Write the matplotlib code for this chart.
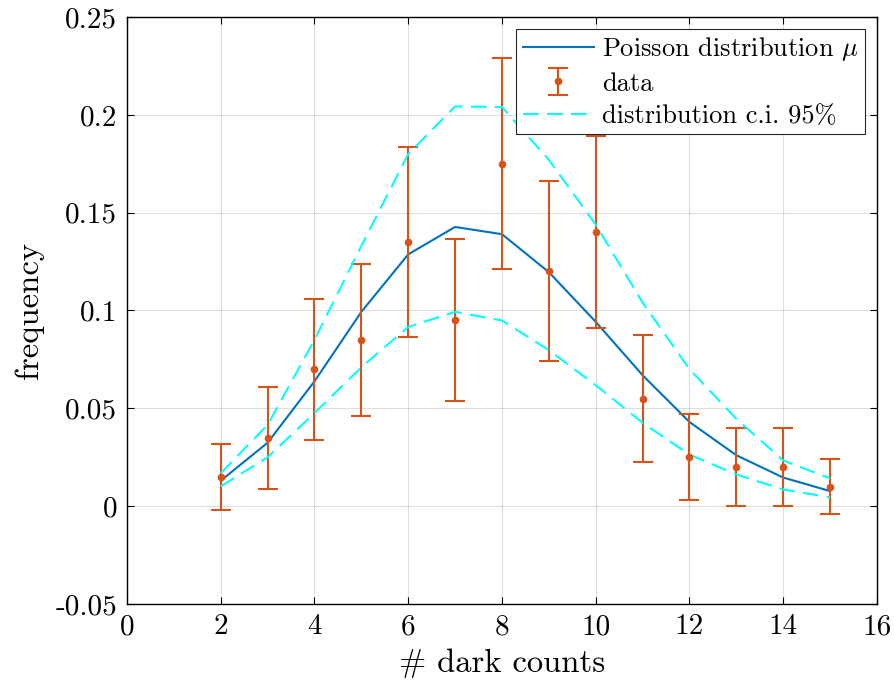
import matplotlib
matplotlib.use('Agg')
import matplotlib.pyplot as plt

# Computer Modern look (MATLAB LaTeX interpreter)
plt.rcParams['font.family'] = ['cmr10', 'DejaVu Serif']
plt.rcParams['mathtext.fontset'] = 'cm'
plt.rcParams['axes.unicode_minus'] = False

FONTSIZE = 21

# data
counts = [2, 3, 4, 5, 6, 7, 8, 9, 10, 11, 12, 13, 14, 15]
freq = [0.015, 0.035, 0.070, 0.085, 0.135, 0.095, 0.175, 0.120, 0.140,
        0.055, 0.025, 0.020, 0.020, 0.010]
freq_err = [0.017, 0.026, 0.036, 0.039, 0.0485, 0.0415, 0.054, 0.046,
            0.049, 0.0325, 0.022, 0.020, 0.020, 0.014]
poisson_mu = [0.013, 0.0324, 0.0638, 0.0993, 0.1287, 0.1427, 0.139, 0.1196,
              0.0942, 0.0669, 0.043, 0.026, 0.0146, 0.0077]
ci_upper = [0.0168, 0.0415, 0.085, 0.133, 0.180, 0.2043, 0.204, 0.177,
            0.1439, 0.104, 0.070, 0.0446, 0.0233, 0.0142]
ci_lower = [0.0101, 0.025, 0.0476, 0.071, 0.0916, 0.0993, 0.0949, 0.0797,
            0.0618, 0.0426, 0.0263, 0.0162, 0.0085, 0.0045]

xticks = [0, 2, 4, 6, 8, 10, 12, 14, 16]
yticks = [-0.05, 0, 0.05, 0.1, 0.15, 0.2, 0.25]
ytick_labels = ['-0.05', '0', '0.05', '0.1', '0.15', '0.2', '0.25']

fig = plt.figure(figsize=(8.94, 6.89), dpi=100)
ax = fig.add_axes([0.142, 0.1234, 0.839, 0.8519])

h_mu, = ax.plot(counts, poisson_mu, color='#0072BD', linewidth=1.5,
                label=r'Poisson distribution $\mu$')
h_data = ax.errorbar(counts, freq, yerr=freq_err, fmt='o', color='#D95319',
                     markersize=4.5, elinewidth=1.5, capsize=7, capthick=1.5,
                     label='data')
h_ci, = ax.plot(counts, ci_upper, color='#00FFFF', linewidth=1.5,
                linestyle=(0, (7.5, 4)), label='distribution c.i. 95%')
ax.plot(counts, ci_lower, color='#00FFFF', linewidth=1.5,
        linestyle=(0, (7.5, 4)))

ax.set_xlim(0, 16)
ax.set_ylim(-0.05, 0.25)
ax.set_xticks(xticks)
ax.set_xticklabels([str(t) for t in xticks])
ax.set_yticks(yticks)
ax.set_yticklabels(ytick_labels)
ax.tick_params(direction='in', top=True, right=True, length=5,
               width=0.8, labelsize=FONTSIZE, pad=7)
for s in ax.spines.values():
    s.set_linewidth(1.0)
ax.grid(True, color='#262626', alpha=0.15, linewidth=0.8)
ax.set_axisbelow(True)

ax.set_xlabel('# dark counts', fontsize=FONTSIZE + 2.5, labelpad=6)
ax.set_ylabel('frequency', fontsize=FONTSIZE + 2.5, labelpad=8)

leg = ax.legend([h_mu, h_data, h_ci],
                [r'Poisson distribution $\mu$', 'data', 'distribution c.i. 95%'],
                loc='upper right', fontsize=FONTSIZE - 2, frameon=True,
                fancybox=False, framealpha=1, edgecolor='#262626',
                handlelength=2.7, borderpad=0.25, labelspacing=0.32,
                handletextpad=0.3, borderaxespad=0.45)
leg.get_frame().set_linewidth(0.8)

fig.savefig('out.png', dpi=100)
